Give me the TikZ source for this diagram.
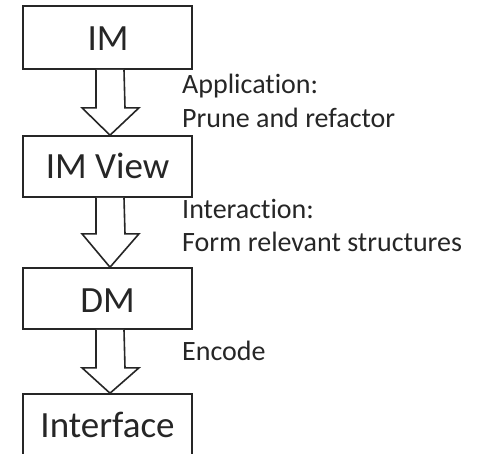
\documentclass[tikz,border=0pt]{standalone}
\usepackage{fontspec}
\setmainfont{Carlito}[Ligatures={NoCommon,NoRequired}]
\usetikzlibrary{calc}
\definecolor{ink}{HTML}{262626}
\tikzset{
  box/.style={draw=ink, line width=1.6pt, minimum width=169pt, inner sep=0pt},
  boxtext/.style={anchor=base, text=ink, font=\fontsize{37}{40}\selectfont, inner sep=0pt},
  lbl/.style={anchor=base west, text=ink, font=\fontsize{28}{33}\selectfont, inner sep=0pt},
  blockarrow/.style={draw=ink, line width=1.6pt, fill=white, line join=miter}
}
\newcommand{\blockarr}[4]{% start node, end node, shaft length, x-offset
  \draw[blockarrow] ($(#1.south)+(#4-14,0)$) -- ++(0,#3) -- ++(-14,0)
     -- ($(#2.north)+(#4,0)$) -- ($(#1.south)+(#4+29,#3)$) -- ++(-14,0)
     -- ($(#1.south)+(#4+14,0)$);
}
\begin{document}
\begin{tikzpicture}[x=1pt,y=-1pt]
\useasboundingbox (0,0) rectangle (477,453);
\node[box, minimum height=63pt] (im) at (107.5,37.5) {};
\node[box, minimum height=61pt] (imv) at (107.5,166.5) {};
\node[box, minimum height=61pt] (dm) at (107.5,298.5) {};
\node[box, minimum height=80pt] (itf) at (107.5,434) {};
\node[boxtext] (t1) at (108,50) {IM};
\node[boxtext] (t2) at (107.5,178) {IM View};
\node[boxtext] (t3) at (107.5,312) {DM};
\node[boxtext] (t4) at (107.5,437) {Interface};
\blockarr{im}{imv}{38}{2.5}
\blockarr{imv}{dm}{36}{2.5}
\blockarr{dm}{itf}{38}{2.5}
\node[lbl] (l1a) at (182,93) {Application:};
\node[lbl] (l1b) at (182,127) {Prune and refactor};
\node[lbl] (l2a) at (182,218) {Interaction:};
\node[lbl] (l2b) at (182,251) {Form relevant structures};
\node[lbl] (l3) at (182,360) {Encode};
\end{tikzpicture}
\end{document}
